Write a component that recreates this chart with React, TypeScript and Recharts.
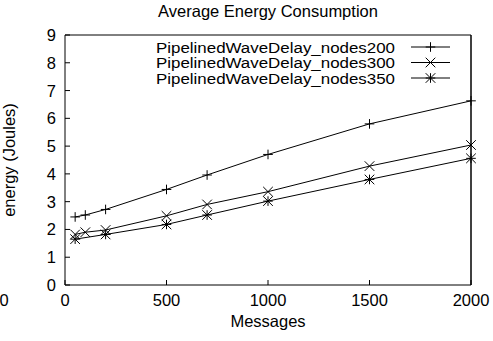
import React from "react"
import { LineChart, Line, XAxis, YAxis, Legend } from "recharts"

// values
const messages = [50, 100, 200, 500, 700, 1000, 1500, 2000]
const energy200 = [2.45, 2.52, 2.72, 3.44, 3.96, 4.7, 5.8, 6.63]
const energy300 = [1.82, 1.9, 1.98, 2.49, 2.9, 3.36, 4.28, 5.04]
const messages350 = [50, 200, 500, 700, 1000, 1500, 2000]
const energy350 = [1.65, 1.82, 2.18, 2.52, 3.02, 3.8, 4.56]

const xTicks = [0, 500, 1000, 1500, 2000]
const yTicks = [0, 1, 2, 3, 4, 5, 6, 7, 8, 9]

const FONT = "'Liberation Sans', Arial, Helvetica, sans-serif"
const FS = 16.5

const toPoints = (xs: number[], ys: number[]) => xs.map((x, i) => ({ x, y: ys[i] }))

type MarkerKind = "plus" | "cross" | "star"

const series: { name: string; data: { x: number; y: number }[]; marker: MarkerKind }[] = [
  { name: "PipelinedWaveDelay_nodes200", data: toPoints(messages, energy200), marker: "plus" },
  { name: "PipelinedWaveDelay_nodes300", data: toPoints(messages, energy300), marker: "cross" },
  { name: "PipelinedWaveDelay_nodes350", data: toPoints(messages350, energy350), marker: "star" },
]

const markerPath = (kind: MarkerKind, cx: number, cy: number, r = 4.8) => {
  const plus = `M${cx - r},${cy}H${cx + r}M${cx},${cy - r}V${cy + r}`
  const cross = `M${cx - r},${cy - r}L${cx + r},${cy + r}M${cx + r},${cy - r}L${cx - r},${cy + r}`
  if (kind === "plus") return plus
  if (kind === "cross") return cross
  return plus + cross
}

const BottomTick = (props: any) => {
  const { x, y, payload } = props
  return (
    <text x={x} y={y + 21} textAnchor="middle" fontFamily={FONT} fontSize={FS} fill="#000">
      {payload.value}
    </text>
  )
}

const LeftTick = (props: any) => {
  const { x, y, payload } = props
  return (
    <text x={x - 9} y={y + 6} textAnchor="end" fontFamily={FONT} fontSize={FS} fill="#000">
      {payload.value}
    </text>
  )
}

// legend sits at left 150 / top 30 inside the chart
const renderLegend = () => (
  <svg width={320} height={60} style={{ display: "block" }}>
    {series.map((s, i) => {
      const cy = 17 + i * 15.5
      return (
        <g key={s.name}>
          <text
            x={245}
            y={cy + 5.5}
            textAnchor="end"
            fontFamily={FONT}
            fontSize={15.5}
            textLength={239}
            lengthAdjust="spacingAndGlyphs"
            fill="#000"
          >
            {s.name}
          </text>
          <line x1={261} x2={300} y1={cy} y2={cy} stroke="#000" strokeWidth={1} />
          <path d={markerPath(s.marker, 280.5, cy)} stroke="#000" strokeWidth={1} fill="none" />
        </g>
      )
    })}
  </svg>
)

export default function App() {
  return (
    <div style={{ position: "absolute", left: 0, top: 0, width: 493, height: 341, background: "#fff" }}>
      <LineChart
        width={493}
        height={341}
        margin={{ top: 34, right: 21, bottom: 0, left: 25 }}
        style={{ fontFamily: FONT }}
      >
        <XAxis
          xAxisId="b"
          dataKey="x"
          type="number"
          domain={[0, 2000]}
          ticks={xTicks}
          interval={0}
          height={56}
          tickSize={-5}
          tickMargin={5}
          stroke="#000"
          tick={<BottomTick />}
        />
        <XAxis
          xAxisId="t"
          orientation="top"
          dataKey="x"
          type="number"
          domain={[0, 2000]}
          ticks={xTicks}
          interval={0}
          height={1}
          tickSize={-5}
          tick={false}
          stroke="#000"
        />
        <YAxis
          yAxisId="l"
          type="number"
          domain={[0, 9]}
          ticks={yTicks}
          interval={0}
          width={40}
          tickSize={-5}
          tickMargin={5}
          stroke="#000"
          tick={<LeftTick />}
        />
        <YAxis
          yAxisId="r"
          orientation="right"
          type="number"
          domain={[0, 9]}
          ticks={yTicks}
          interval={0}
          width={1}
          tickSize={-5}
          tick={false}
          stroke="#000"
          strokeWidth={1.5}
        />
        <Legend
          layout="vertical"
          align="center"
          verticalAlign="middle"
          wrapperStyle={{ position: "absolute", top: 30, left: 150, width: 320, height: 60 }}
          content={renderLegend}
        />
        {series.map((s) => (
          <Line
            key={s.name}
            xAxisId="b"
            yAxisId="l"
            data={s.data}
            dataKey="y"
            name={s.name}
            type="linear"
            stroke="#000"
            strokeWidth={1}
            isAnimationActive={false}
            activeDot={false}
            dot={(p: any) => (
              <path
                key={`${s.name}-${p.index}`}
                d={markerPath(s.marker, p.cx, p.cy)}
                stroke="#000"
                strokeWidth={1}
                fill="none"
              />
            )}
          />
        ))}
      </LineChart>
      <svg
        width={493}
        height={341}
        style={{ position: "absolute", left: 0, top: 0, pointerEvents: "none" }}
      >
        <text x={268} y={17} textAnchor="middle" fontFamily={FONT} fontSize={FS} fill="#000">
          Average Energy Consumption
        </text>
        <text
          x={15}
          y={160}
          textAnchor="middle"
          transform="rotate(-90 15 160)"
          fontFamily={FONT}
          fontSize={FS}
          fill="#000"
        >
          energy (Joules)
        </text>
        <text x={4} y={306} textAnchor="middle" fontFamily={FONT} fontSize={FS} fill="#000">
          0
        </text>
        <text x={268} y={327} textAnchor="middle" fontFamily={FONT} fontSize={FS} fill="#000">
          Messages
        </text>
      </svg>
    </div>
  )
}
